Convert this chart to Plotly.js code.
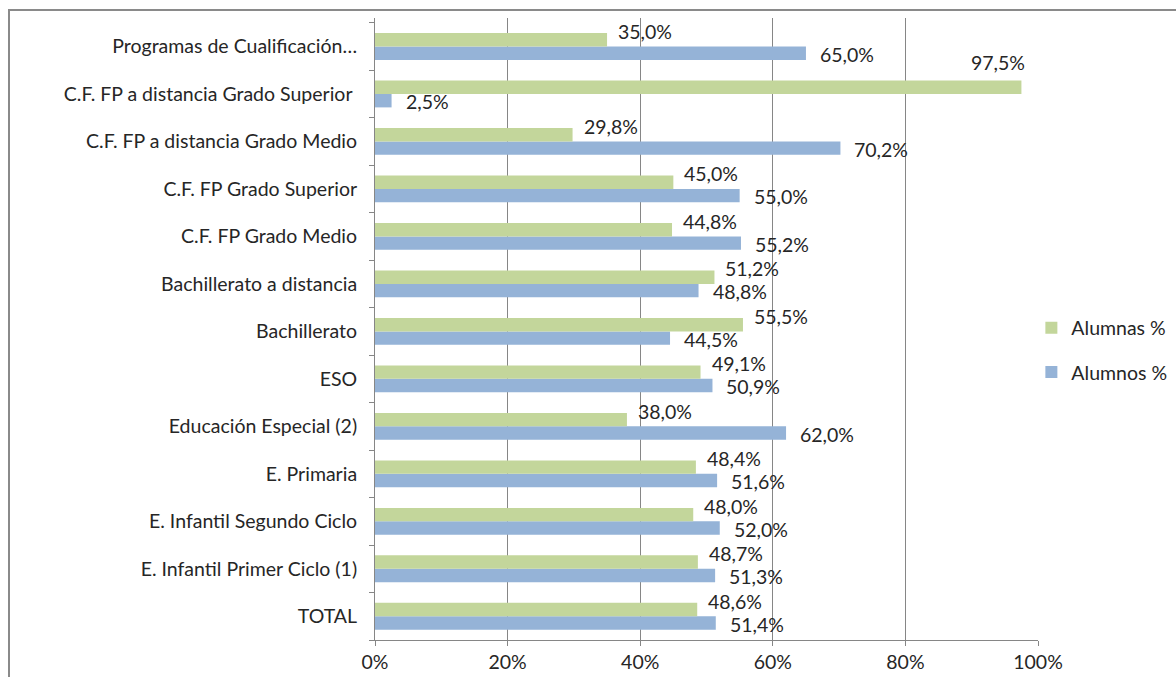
<!DOCTYPE html>
<html>
<head>
<meta charset="utf-8">
<script src="https://cdn.plot.ly/plotly-3.0.1.min.js"></script>
<style>
  html, body { margin: 0; padding: 0; background: #fff; overflow: hidden; }
  #chart { width: 1176px; height: 677px; }
  #frame { position: absolute; left: 8px; top: 9px; width: 1300px; height: 800px;
           border-left: 2px solid #8a8a8a; border-top: 2px solid #8a8a8a; pointer-events: none; }
</style>
</head>
<body>
<div id="chart"></div>
<div id="frame"></div>
<script>
const categories = [
  "TOTAL",
  "E. Infantil Primer Ciclo (1)",
  "E. Infantil Segundo Ciclo",
  "E. Primaria",
  "Educación Especial (2)",
  "ESO",
  "Bachillerato",
  "Bachillerato a distancia",
  "C.F. FP Grado Medio",
  "C.F. FP Grado Superior",
  "C.F. FP a distancia Grado Medio",
  "C.F. FP a distancia Grado Superior\u00a0",
  "Programas de Cualificación…"
];
const alumnas = [48.6, 48.7, 48.0, 48.4, 38.0, 49.1, 55.5, 51.2, 44.8, 45.0, 29.8, 97.5, 35.0];
const alumnos = [51.4, 51.3, 52.0, 51.6, 62.0, 50.9, 44.5, 48.8, 55.2, 55.0, 70.2, 2.5, 65.0];
const xTicks = [0, 20, 40, 60, 80, 100];

const GREEN = "#C3D69B";
const BLUE = "#95B3D7";
const FONT = "Lato, 'Open Sans', sans-serif";
const TXT = "#262626";
const FS = 19.5;

const fmt = v => v.toFixed(1).replace(".", ",") + "%";

const traces = [
  { type: "bar", orientation: "h", name: "Alumnos %", y: categories, x: alumnos,
    marker: { color: BLUE }, legendgroup: "b", legendrank: 2, hoverinfo: "x+y" },
  { type: "bar", orientation: "h", name: "Alumnas %", y: categories, x: alumnas,
    marker: { color: GREEN }, legendgroup: "a", legendrank: 1, hoverinfo: "x+y" }
];

const annotations = [];
categories.forEach((c, i) => {
  const g = alumnas[i];
  if (g > 90) {
    annotations.push({ x: g, y: c, xref: "x", yref: "y", text: fmt(g), showarrow: false,
      xanchor: "right", xshift: 6, yshift: 31, font: { family: FONT, size: FS, color: TXT } });
  } else {
    annotations.push({ x: g, y: c, xref: "x", yref: "y", text: fmt(g), showarrow: false,
      xanchor: "left", xshift: 9, yshift: 15, font: { family: FONT, size: FS, color: TXT } });
  }
  const b = alumnos[i];
  annotations.push({ x: b, y: c, xref: "x", yref: "y", text: fmt(b), showarrow: false,
    xanchor: "left", xshift: 12, yshift: -8, font: { family: FONT, size: FS, color: TXT } });
});

const layout = {
  width: 1176, height: 677,
  margin: { l: 375, r: 138, t: 18, b: 37, autoexpand: false },
  paper_bgcolor: "#fff", plot_bgcolor: "#fff",
  barmode: "group", bargap: 0.435, bargroupgap: 0,
  font: { family: FONT, size: FS, color: TXT },
  xaxis: {
    range: [0, 100], tickvals: xTicks, ticktext: xTicks.map(v => v + "%"),
    showgrid: true, gridcolor: "#868686", gridwidth: 1,
    showline: true, linecolor: "#868686", linewidth: 1,
    ticks: "outside", ticklen: 5, tickcolor: "#868686",
    zeroline: false, fixedrange: true,
    tickfont: { family: FONT, size: FS, color: TXT }
  },
  yaxis: {
    type: "category", categoryorder: "array", categoryarray: categories,
    showline: true, linecolor: "#868686", linewidth: 1,
    ticks: "outside", ticklen: 5, tickcolor: "#868686", tickson: "boundaries",
    showgrid: false, zeroline: false, fixedrange: true,
    ticklabelstandoff: 13,
    tickfont: { family: FONT, size: FS, color: TXT }
  },
  legend: {
    x: 0.99, xanchor: "left", y: 0.533, yanchor: "top",
    traceorder: "grouped", tracegroupgap: 16,
    font: { family: FONT, size: FS, color: TXT },
    bgcolor: "rgba(0,0,0,0)", itemwidth: 30
  },
  annotations: annotations,
  showlegend: true
};

Plotly.newPlot("chart", traces, layout, { displayModeBar: false, staticPlot: true });
</script>
</body>
</html>
